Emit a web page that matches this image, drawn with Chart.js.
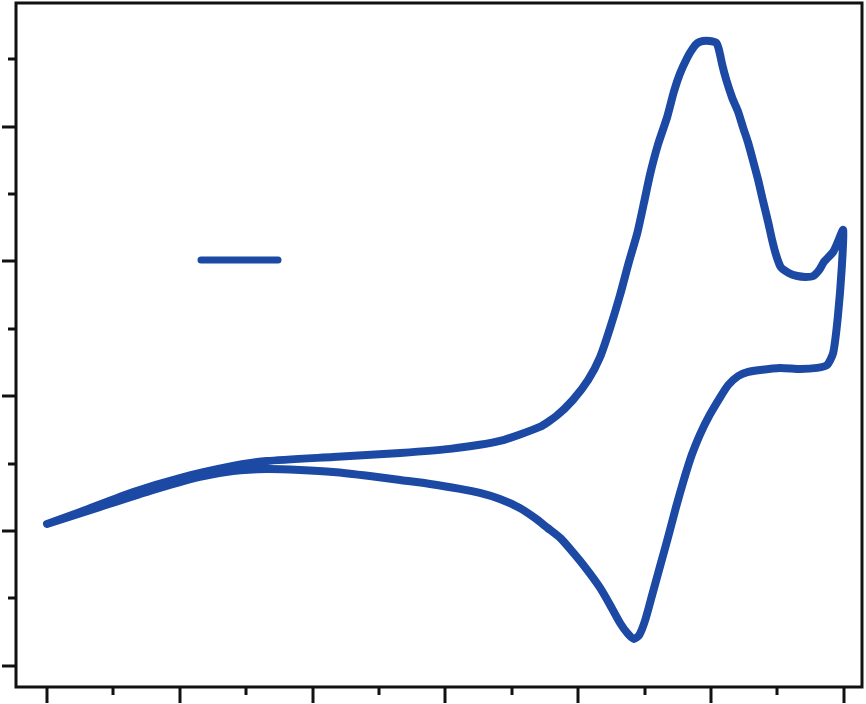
<!DOCTYPE html>
<html>
<head>
<meta charset="utf-8">
<title>Cyclic voltammogram</title>
<script src="https://cdn.jsdelivr.net/npm/chart.js@4.4.1/dist/chart.umd.min.js"></script>
<style>
    html, body { margin: 0; padding: 0; background: #fff; }
    #wrap { position: relative; width: 866px; height: 704px; }
</style>
</head>
<body>
<div id="wrap"><canvas id="cv-chart"></canvas></div>
<script>
/* Data: one closed CV loop, forward scan then reverse scan */
const potential = [
    // forward
    0.000, 0.050, 0.130, 0.200, 0.280, 0.331, 0.431, 0.532, 0.607, 0.682,
    0.742, 0.767, 0.792, 0.815, 0.833, 0.848, 0.863, 0.876, 0.889, 0.899,
    0.908, 0.920, 0.934, 0.944, 0.953, 0.964, 0.973, 0.980, 0.988, 0.998,
    1.008, 1.012, 1.017, 1.023, 1.032, 1.041, 1.048, 1.056, 1.063, 1.071,
    1.078, 1.086, 1.092, 1.098, 1.105, 1.117, 1.130, 1.142, 1.154, 1.163,
    1.170, 1.184, 1.191, 1.199,
    // reverse
    1.197, 1.191, 1.184, 1.175, 1.160, 1.134, 1.104, 1.074, 1.056, 1.041,
    1.026, 1.014, 0.998, 0.983, 0.971, 0.959, 0.947, 0.935, 0.923, 0.911,
    0.901, 0.892, 0.884, 0.875, 0.863, 0.848, 0.833, 0.818, 0.803, 0.788,
    0.773, 0.754, 0.735, 0.712, 0.682, 0.652, 0.622, 0.577, 0.532, 0.486,
    0.431, 0.381, 0.331, 0.280, 0.230, 0.155, 0.080, 0.000
];
const current = [
    // forward
    0.52, 1.41, 2.89, 3.93, 4.82, 5.19, 5.49, 5.79, 6.09, 6.68,
    7.72, 8.53, 9.72, 11.21, 12.91, 15.06, 17.51, 19.89, 22.11, 24.34,
    26.42, 28.65, 30.72, 32.58, 33.91, 35.10, 35.84, 36.22, 36.36, 36.36,
    36.22, 35.70, 34.58, 33.47, 32.13, 31.09, 29.98, 28.79, 27.53, 26.05,
    24.56, 22.93, 21.60, 20.48, 19.59, 19.15, 18.92, 18.85, 18.92, 19.37,
    19.96, 20.71, 21.45, 22.34,
    // reverse
    19.59, 15.88, 13.21, 12.32, 12.10, 12.02, 12.10, 11.95, 11.80, 11.50,
    10.83, 9.94, 8.61, 7.12, 5.64, 3.78, 1.71, -0.52, -2.67, -4.82,
    -6.60, -7.72, -8.01, -7.64, -6.83, -5.49, -4.23, -3.19, -2.23, -1.34,
    -0.52, 0.22, 0.96, 1.71, 2.37, 2.82, 3.12, 3.49, 3.78, 4.08,
    4.38, 4.53, 4.60, 4.45, 4.01, 2.97, 1.78, 0.52
];

const xRange  = [-0.0467, 1.2274];
const yRange  = [-11.58, 39.18];
const xMajor  = [0, 0.2, 0.4, 0.6, 0.8, 1.0, 1.2];
const xMinor  = [0.1, 0.3, 0.5, 0.7, 0.9, 1.1];
const yMajor  = [-10, 0, 10, 20, 30];
const yMinor  = [-5, 5, 15, 25, 35];

(function () {
    'use strict';

    const blue = '#1b49a3';
    const ink  = '#111';

    /* ── Frame, ticks and legend key ──────────────────────────────────── */

    const framePlugin = {
        id: 'frame',
        afterDraw: function (chart) {
            const ctx = chart.ctx;
            const a   = chart.chartArea;
            const sx  = chart.scales.x;
            const sy  = chart.scales.y;

            ctx.save();
            ctx.strokeStyle = ink;
            ctx.lineWidth = 3;
            ctx.lineCap = 'butt';
            ctx.strokeRect(a.left, a.top, a.right - a.left, a.bottom - a.top);

            function tickX(v, len) {
                const px = Math.round(sx.getPixelForValue(v));
                ctx.beginPath();
                ctx.moveTo(px, a.bottom);
                ctx.lineTo(px, a.bottom + len);
                ctx.stroke();
            }
            function tickY(v, len) {
                const py = Math.round(sy.getPixelForValue(v));
                ctx.beginPath();
                ctx.moveTo(a.left, py);
                ctx.lineTo(a.left - len, py);
                ctx.stroke();
            }
            xMajor.forEach(function (v) { tickX(v, 16); });
            xMinor.forEach(function (v) { tickX(v, 8); });
            yMajor.forEach(function (v) { tickY(v, 14); });
            yMinor.forEach(function (v) { tickY(v, 8); });

            // legend key (label text is absent in the source)
            ctx.strokeStyle = blue;
            ctx.lineWidth = 7;
            ctx.lineCap = 'round';
            ctx.beginPath();
            ctx.moveTo(201, 260);
            ctx.lineTo(278, 260);
            ctx.stroke();
            ctx.restore();
        },
    };

    /* ── Chart ────────────────────────────────────────────────────────── */

    const points = potential.map(function (v, i) { return { x: v, y: current[i] }; });

    new Chart(document.getElementById('cv-chart'), {
        type: 'scatter',
        data: {
            datasets: [{
                label: '',
                data: points,
                showLine: true,
                borderColor: blue,
                backgroundColor: blue,
                borderWidth: 8,
                tension: 0.2,
                pointRadius: 0,
                borderJoinStyle: 'round',
                borderCapStyle: 'round',
            }],
        },
        options: {
            responsive: true,
            maintainAspectRatio: false,
            animation: false,
            layout: { padding: { left: 16, top: 3, right: 4, bottom: 17 } },
            plugins: {
                legend: { display: false },
                tooltip: { enabled: false },
            },
            scales: {
                x: { type: 'linear', min: xRange[0], max: xRange[1], display: false },
                y: { type: 'linear', min: yRange[0], max: yRange[1], display: false },
            },
        },
        plugins: [framePlugin],
    });
})();
</script>
</body>
</html>
